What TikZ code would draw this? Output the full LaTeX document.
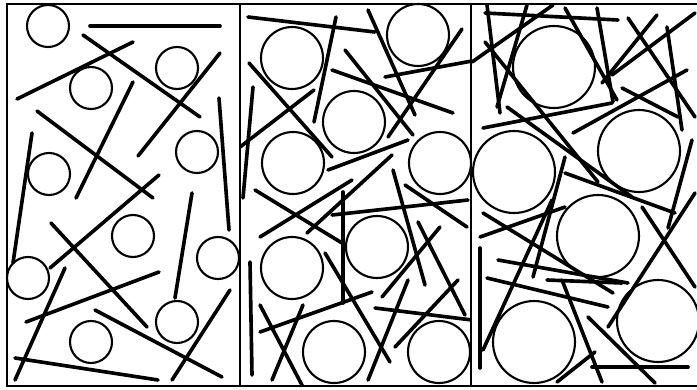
\documentclass[tikz,border=0pt]{standalone}
\begin{document}
\begin{tikzpicture}[x=0.03cm, y=-0.03cm, seg/.style={line width=3.1pt, line cap=round}, ring/.style={line width=1.8pt}]
    \useasboundingbox (0, 0) rectangle (697, 389);
    \draw[line width=1.8pt] (697, 4) -- (7, 4) -- (7, 386) -- (697, 386);
    \draw[line width=1.8pt] (240, 4) -- (240, 386);
    \draw[line width=1.8pt] (471, 3) -- (471, 386);

    % panel 1
    \foreach \cx/\cy in {48/26, 177/68, 91/88, 197/152, 49/174, 133/236, 218/258, 28/278, 177/322, 91/342}
      \draw[ring, fill=white] (\cx, \cy) circle (21);
    \draw[seg] (90, 26) -- (220, 26);
    \draw[seg] (83, 35) -- (200, 117);
    \draw[seg] (17, 99) -- (133, 42);
    \draw[seg] (138, 156) -- (220, 53);
    \draw[seg] (76, 198) -- (133, 82);
    \draw[seg] (37, 111) -- (153, 198);
    \draw[seg] (32, 133) -- (13, 263);
    \draw[seg] (219, 98) -- (229, 230);
    \draw[seg] (50, 268) -- (159, 175);
    \draw[seg] (192, 193) -- (175, 298);
    \draw[seg] (51, 223) -- (147, 327);
    \draw[seg] (26, 322) -- (159, 272);
    \draw[seg] (65, 268) -- (15, 380);
    \draw[seg] (95, 310) -- (222, 377);
    \draw[seg] (230, 290) -- (172, 380);
    \draw[seg] (15, 358) -- (158, 380);

    % panel 2
    \foreach \cx/\cy in {292/58, 418/35, 354/122, 293/163, 440/163, 377/247, 292/268, 334/352, 439/352}
      \draw[ring, fill=white] (\cx, \cy) circle (31);
    \begin{scope}
      \clip (240, 4) rectangle (471, 386);
      \draw[seg] (248, 17) -- (375, 32);
      \draw[seg] (336, 17) -- (314, 122);
      \draw[seg] (368, 10) -- (415, 115);
      \draw[seg] (462, 29) -- (388, 137);
      \draw[seg] (385, 77) -- (472, 61);
      \draw[seg] (345, 50) -- (413, 135);
      \draw[seg] (332, 70) -- (453, 113);
      \draw[seg] (249, 63) -- (332, 157);
      \draw[seg] (314, 90) -- (240, 147);
      \draw[seg] (253, 87) -- (243, 198);
      \draw[seg] (408, 140) -- (328, 170);
      \draw[seg] (392, 155) -- (307, 233);
      \draw[seg] (352, 180) -- (260, 237);
      \draw[seg] (255, 190) -- (342, 243);
      \draw[seg] (343, 192) -- (343, 303);
      \draw[seg] (332, 215) -- (468, 200);
      \draw[seg] (405, 185) -- (467, 227);
      \draw[seg] (393, 170) -- (425, 285);
      \draw[seg] (440, 227) -- (382, 297);
      \draw[seg] (418, 222) -- (465, 315);
      \draw[seg] (325, 253) -- (390, 362);
      \draw[seg] (372, 292) -- (260, 332);
      \draw[seg] (250, 262) -- (252, 375);
      \draw[seg] (260, 305) -- (303, 387);
      \draw[seg] (303, 305) -- (272, 380);
      \draw[seg] (408, 280) -- (368, 380);
      \draw[seg] (375, 308) -- (472, 320);
      \draw[seg] (458, 280) -- (395, 347);
    \end{scope}

    % panel 3
    \foreach \cx/\cy in {554/67, 639/151, 514/172, 598/236, 658/321, 534/342}
      \draw[ring, fill=white] (\cx, \cy) circle (41);
    \begin{scope}
      \clip (471, 4) rectangle (697, 386);
      \draw[seg] (485, 13) -- (618, 20);
      \draw[seg] (487, 5) -- (500, 113);
      \draw[seg] (527, 5) -- (497, 107);
      \draw[seg] (553, 5) -- (472, 62);
      \draw[seg] (485, 42) -- (598, 182);
      \draw[seg] (565, 8) -- (617, 100);
      \draw[seg] (597, 8) -- (613, 102);
      \draw[seg] (628, 18) -- (695, 117);
      \draw[seg] (657, 15) -- (602, 83);
      \draw[seg] (695, 13) -- (612, 75);
      \draw[seg] (667, 27) -- (682, 130);
      \draw[seg] (687, 70) -- (573, 133);
      \draw[seg] (622, 88) -- (678, 117);
      \draw[seg] (483, 128) -- (612, 103);
      \draw[seg] (507, 107) -- (632, 197);
      \draw[seg] (565, 157) -- (533, 277);
      \draw[seg] (692, 140) -- (668, 228);
      \draw[seg] (565, 173) -- (675, 213);
      \draw[seg] (480, 237) -- (565, 207);
      \draw[seg] (483, 213) -- (613, 293);
      \draw[seg] (498, 260) -- (628, 283);
      \draw[seg] (552, 200) -- (483, 350);
      \draw[seg] (480, 248) -- (480, 368);
      \draw[seg] (487, 278) -- (608, 307);
      \draw[seg] (547, 280) -- (622, 283);
      \draw[seg] (642, 207) -- (695, 287);
      \draw[seg] (695, 193) -- (608, 327);
      \draw[seg] (562, 280) -- (602, 382);
      \draw[seg] (588, 317) -- (655, 383);
      \draw[seg] (592, 367) -- (688, 367);
      \draw[seg] (595, 352) -- (557, 382);
    \end{scope}
  \end{tikzpicture}
\end{document}
